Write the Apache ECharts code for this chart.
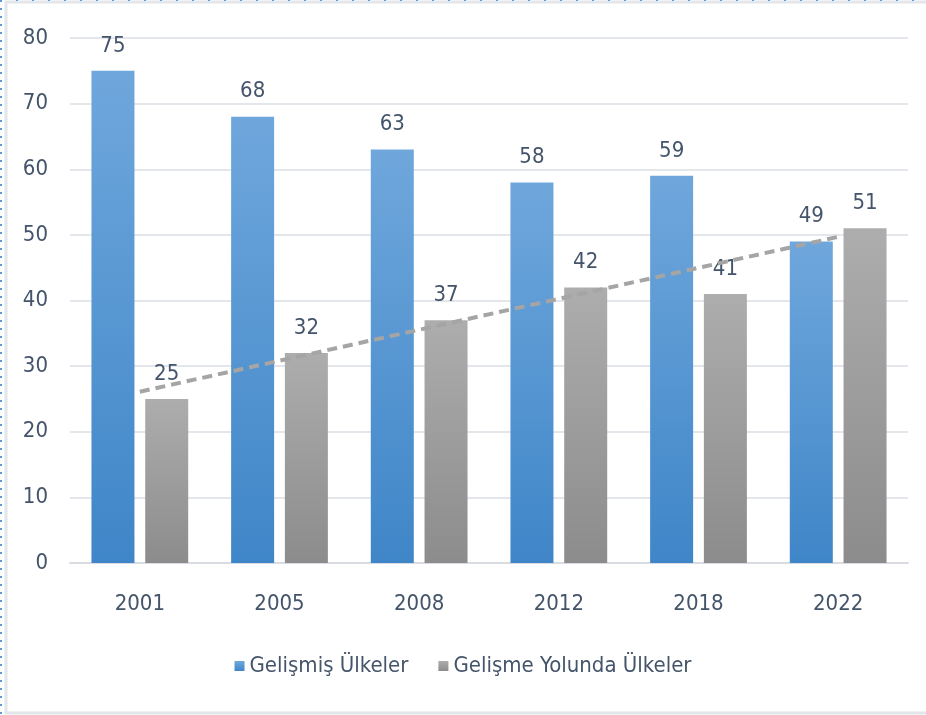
<!DOCTYPE html>
<html lang="tr">
<head>
    <meta charset="utf-8">
    <title>Gelişmiş ve Gelişme Yolunda Ülkeler</title>
    <script src="https://cdn.jsdelivr.net/npm/echarts@6/dist/echarts.min.js"></script>
    <style>
        html, body { margin: 0; padding: 0; background: #fff; }
        #chart { width: 926px; height: 715px; }
    </style>
</head>
<body>
<div id="chart"></div>
<script type="text/javascript">
    var years = ['2001', '2005', '2008', '2012', '2018', '2022'];
    var developed = [75, 68, 63, 58, 59, 49];
    var developing = [25, 32, 37, 42, 41, 51];
    // linear trend of the grey series, end points
    var trendEnds = [26.1, 49.7];
    var yTicks = { min: 0, max: 80, interval: 10 };

    var textColor = '#44546a';
    var font = '"DejaVu Sans Condensed", "Noto Sans", sans-serif';

    var trend = years.map(function (y, i) {
        if (i === 0) return trendEnds[0];
        if (i === years.length - 1) return trendEnds[1];
        return null;
    });

    var chart = echarts.init(document.getElementById('chart'));
    var option = {
        backgroundColor: '#fff',
        animation: false,
        textStyle: { fontFamily: font },
        graphic: [
            { type: 'rect', shape: { x: 6, y: 2, width: 940, height: 711 },
              style: { fill: 'none', stroke: '#e3e6ea', lineWidth: 3 }, silent: true },
            { type: 'line', shape: { x1: 1, y1: 0, x2: 1, y2: 715 },
              style: { stroke: '#5b9bd5', lineWidth: 2, lineDash: [2, 6] }, silent: true },
            { type: 'line', shape: { x1: 0, y1: 0, x2: 926, y2: 0 },
              style: { stroke: '#5b9bd5', lineWidth: 2, lineDash: [2, 14] }, silent: true }
        ],
        grid: { left: 70, right: 18, top: 38, bottom: 152 },
        legend: {
            bottom: 33,
            left: 'center',
            itemWidth: 10,
            itemHeight: 10,
            itemGap: 30,
            icon: 'rect',
            data: ['Gelişmiş Ülkeler', 'Gelişme Yolunda Ülkeler'],
            textStyle: { color: textColor, fontSize: 22, fontFamily: font }
        },
        xAxis: {
            type: 'category',
            data: years,
            axisLine: { lineStyle: { color: '#d9dde3', width: 2 } },
            axisTick: { show: false },
            axisLabel: { color: textColor, fontSize: 22, margin: 30, fontFamily: font }
        },
        yAxis: {
            type: 'value',
            min: yTicks.min,
            max: yTicks.max,
            interval: yTicks.interval,
            axisLine: { show: false },
            axisTick: { show: false },
            axisLabel: { color: textColor, fontSize: 22, margin: 22, fontFamily: font },
            splitLine: { lineStyle: { color: '#e3e6ea', width: 2 } }
        },
        series: [
            {
                name: 'Gelişmiş Ülkeler',
                type: 'bar',
                data: developed,
                barWidth: 43,
                barGap: '25%',
                itemStyle: {
                    color: new echarts.graphic.LinearGradient(0, 0, 0, 1, [
                        { offset: 0, color: '#6fa7dc' },
                        { offset: 1, color: '#3f86c8' }
                    ])
                },
                label: {
                    show: true, position: 'top', distance: 14,
                    color: textColor, fontSize: 22, fontFamily: font
                }
            },
            {
                name: 'Gelişme Yolunda Ülkeler',
                type: 'bar',
                data: developing,
                barWidth: 43,
                itemStyle: {
                    color: new echarts.graphic.LinearGradient(0, 0, 0, 1, [
                        { offset: 0, color: '#adadad' },
                        { offset: 1, color: '#8c8c8c' }
                    ])
                },
                label: {
                    show: true, position: 'top', distance: 14,
                    color: textColor, fontSize: 22, fontFamily: font
                }
            },
            {
                name: 'trend',
                type: 'line',
                data: trend,
                connectNulls: true,
                symbol: 'none',
                z: 5,
                lineStyle: { color: '#a5a5a5', width: 4, type: [10, 6] }
            }
        ]
    };
    chart.setOption(option);
</script>
</body>
</html>
